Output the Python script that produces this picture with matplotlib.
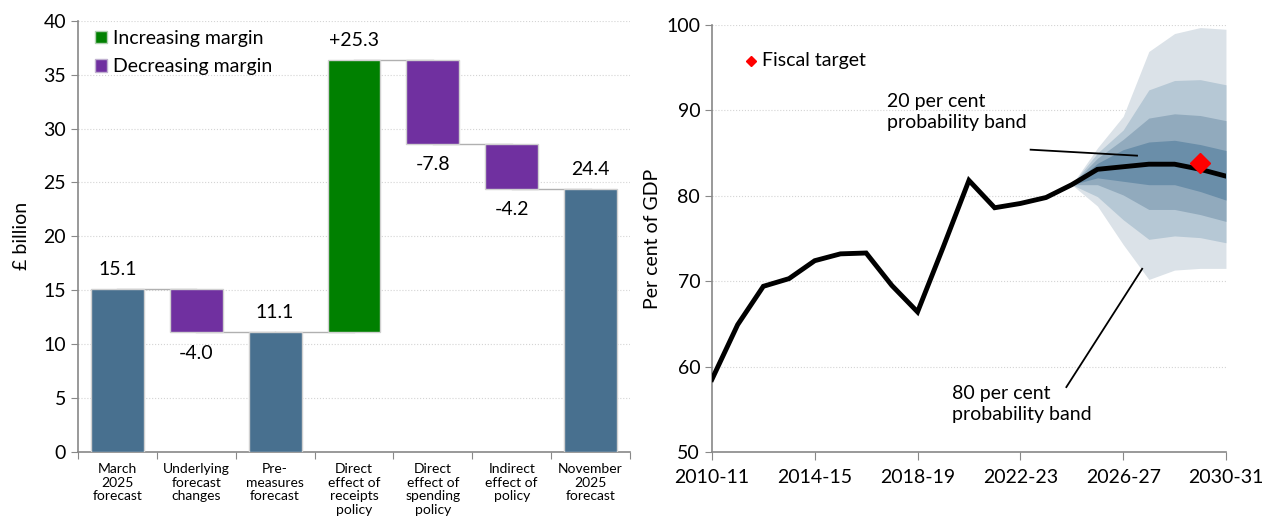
#!/usr/bin/env python3
"""
Waterfall of the change in headroom (left) and debt fan chart (right).
"""
import matplotlib
matplotlib.use("Agg")
import matplotlib.pyplot as plt
from matplotlib.patches import Patch

plt.rcParams["font.family"] = ["Lato", "DejaVu Sans"]

# ---- left panel: waterfall ----
categories = [
    "March\n2025\nforecast",
    "Underlying\nforecast\nchanges",
    "Pre-\nmeasures\nforecast",
    "Direct\neffect of\nreceipts\npolicy",
    "Direct\neffect of\nspending\npolicy",
    "Indirect\neffect of\npolicy",
    "November\n2025\nforecast",
]
changes = [15.1, -4.0, None, 25.3, -7.8, -4.2, None]  # None = running total bar
labels = ["15.1", "-4.0", "11.1", "+25.3", "-7.8", "-4.2", "24.4"]

# ---- right panel: debt fan chart ----
years = ["2010-11", "2011-12", "2012-13", "2013-14", "2014-15", "2015-16",
         "2016-17", "2017-18", "2018-19", "2019-20", "2020-21", "2021-22",
         "2022-23", "2023-24", "2024-25", "2025-26", "2026-27", "2027-28",
         "2028-29", "2029-30", "2030-31"]
debt = [58.5, 64.9, 69.4, 70.3, 72.4, 73.2, 73.3, 69.5, 66.4, 74.0, 81.8,
        78.6, 79.1, 79.8, 81.3, 83.1, 83.4, 83.7, 83.7, 83.1, 82.3]
fan_years = years[14:]
upper80 = [81.3, 85.6, 89.3, 96.9, 99.0, 99.7, 99.5]
upper60 = [81.3, 85.0, 87.7, 92.4, 93.5, 93.6, 93.0]
upper40 = [81.3, 84.4, 86.6, 89.1, 89.6, 89.4, 88.8]
upper20 = [81.3, 83.8, 85.4, 86.3, 86.5, 86.0, 85.3]
lower20 = [81.3, 82.1, 81.7, 81.3, 81.3, 80.5, 79.5]
lower40 = [81.3, 81.3, 80.1, 78.4, 78.4, 77.8, 77.0]
lower60 = [81.3, 79.9, 77.2, 74.9, 75.3, 75.1, 74.5]
lower80 = [81.3, 78.8, 74.3, 70.2, 71.3, 71.5, 71.5]
target_year = "2029-30"
target_value = 83.8

BLUE = "#48708f"
GREEN = "#008000"
PURPLE = "#7030a0"
FAN = ["#dbe2e8", "#b6c8d5", "#91aabd", "#6a8ea9"]
SPINE = "#888888"
GRID = "#d4d4d4"
FS = 14

fig = plt.figure(figsize=(12.72, 5.23), dpi=100)

# ---------------- waterfall ----------------
ax = fig.add_axes([0.0613, 0.1358, 0.434, 0.8246])
bottoms, heights, colors, ends = [], [], [], []
level = 0.0
for i, ch in enumerate(changes):
    if ch is None:
        bottoms.append(0)
        heights.append(level)
        colors.append(BLUE)
    elif i == 0:
        level = ch
        bottoms.append(0)
        heights.append(ch)
        colors.append(BLUE)
    else:
        bottoms.append(level)
        heights.append(ch)
        colors.append(GREEN if ch > 0 else PURPLE)
        level += ch
    ends.append(level)

x = range(len(categories))
ax.bar(x, heights, bottom=bottoms, width=0.67, color=colors,
       edgecolor="#d0d0d0", linewidth=1, zorder=3)
for i in range(len(categories) - 1):
    ax.plot([i, i + 1], [ends[i], ends[i]], color="#b0b0b0", lw=1, zorder=2)

for i, lab in enumerate(labels):
    top = bottoms[i] + heights[i]
    off = -15 if heights[i] < 0 else 14
    ax.annotate(lab, (i, top), xytext=(0, off), textcoords="offset points",
                ha="center", va="center", fontsize=FS)

ax.set_xlim(-0.5, len(categories) - 0.5)
ax.set_ylim(0, 40)
ax.set_yticks(range(0, 41, 5))
ax.set_xticks([i - 0.5 for i in range(len(categories) + 1)])
ax.set_xticklabels([])
ax.set_xticks(list(x), minor=True)
ax.set_xticklabels(categories, minor=True, fontsize=10, linespacing=1.15)
ax.tick_params(axis="x", which="minor", length=0, pad=8)
ax.tick_params(axis="x", which="major", length=5, color=SPINE)
ax.tick_params(axis="y", labelsize=FS, length=5, color=SPINE)
ax.set_ylabel("£ billion", fontsize=FS, labelpad=10)
ax.grid(axis="y", color=GRID, linestyle=":", lw=0.8, zorder=0)
for s in ["top", "right"]:
    ax.spines[s].set_visible(False)
for s in ["left", "bottom"]:
    ax.spines[s].set_color(SPINE)
    ax.spines[s].set_linewidth(1.2)

handles = [Patch(facecolor=GREEN, edgecolor="#b0d0b0"),
           Patch(facecolor=PURPLE, edgecolor="#c0b0d0")]
ax.legend(handles, ["Increasing margin", "Decreasing margin"],
          loc="upper left", bbox_to_anchor=(0.0, 1.02), frameon=False,
          fontsize=FS, handlelength=0.6, handleheight=0.6,
          handletextpad=0.3, labelspacing=0.6)

# ---------------- fan chart ----------------
ax2 = fig.add_axes([0.5597, 0.1358, 0.4041, 0.8164])
xi = list(range(len(years)))
fx = xi[14:]
bands = [(lower80, upper80), (lower60, upper60), (lower40, upper40), (lower20, upper20)]
for (lo, hi), c in zip(bands, FAN):
    ax2.fill_between(fx, lo, hi, color=c, lw=0, zorder=2)
ax2.plot(xi, debt, color="black", lw=3.5, zorder=4, solid_joinstyle="miter")
ax2.plot(years.index(target_year), target_value, marker="D", ms=10,
         color="#ff0000", mec="#ff0000", lw=0, zorder=5)

ax2.plot(1.53, 95.8, marker="D", ms=5, color="#ff0000", lw=0)
ax2.text(1.95, 95.8, "Fiscal target", fontsize=FS, va="center", ha="left")

ax2.text(6.82, 89.8, "20 per cent\nprobability band", fontsize=FS,
         va="center", ha="left", linespacing=1.3)
ax2.plot([12.4, 16.54], [85.4, 84.7], color="black", lw=1.3, zorder=3)
ax2.text(9.35, 55.6, "80 per cent\nprobability band", fontsize=FS,
         va="center", ha="left", linespacing=1.3)
ax2.plot([13.79, 16.74], [57.6, 71.45], color="black", lw=1.3, zorder=3)

ax2.set_xlim(0, len(years) - 1)
ax2.set_ylim(50, 100)
ax2.set_yticks(range(50, 101, 10))
ax2.set_xticks(xi[::4])
ax2.set_xticklabels(years[::4])
ax2.tick_params(axis="x", labelsize=FS, length=6, color=SPINE, pad=6)
ax2.tick_params(axis="y", labelsize=FS, length=5, color=SPINE)
ax2.set_ylabel("Per cent of GDP", fontsize=FS, labelpad=4)
ax2.grid(axis="y", color=GRID, linestyle=":", lw=0.8, zorder=0)
for s in ["top", "right"]:
    ax2.spines[s].set_visible(False)
for s in ["left", "bottom"]:
    ax2.spines[s].set_color(SPINE)
    ax2.spines[s].set_linewidth(1.2)

fig.savefig("out.png", dpi=100)
